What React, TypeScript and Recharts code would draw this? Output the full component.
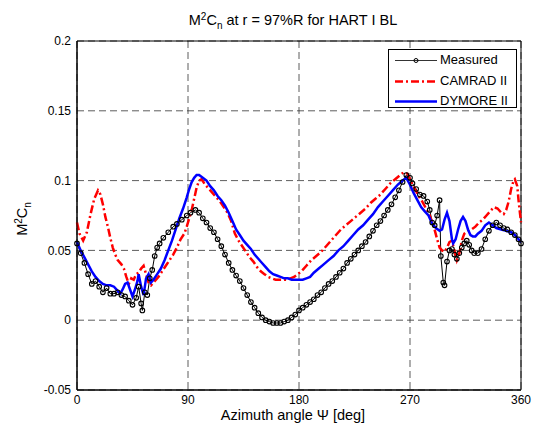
import React from 'react';
import { LineChart, Line, XAxis, YAxis, CartesianGrid, Legend, ReferenceArea } from 'recharts';

const psiTicks = [0, 90, 180, 270, 360];
const valueTicks = [-0.05, 0, 0.05, 0.1, 0.15, 0.2];

// Measured (azimuth deg, M^2Cn)
const measuredPsi = [
  0, 3, 6, 9, 12, 15, 18, 21, 24, 27, 30, 33, 36, 39, 42, 45, 48, 50, 52, 53, 55, 57, 59, 61, 63, 65, 67, 70, 74, 78,
  81, 85, 89, 92, 96, 99, 102, 105, 108, 111, 114, 117, 120, 123, 126, 129, 132, 135, 138, 141, 144, 147, 150, 153,
  156, 159, 162, 165, 168, 171, 174, 177, 180, 183, 186, 189, 192, 195, 198, 201, 204, 207, 210, 213, 216, 219, 222,
  225, 228, 231, 234, 237, 240, 243, 246, 249, 252, 255, 258, 261, 264, 267, 270, 272, 275, 278, 281, 284, 286, 288,
  290, 292, 294, 295, 297, 298, 300, 302, 304, 306, 308, 310, 312, 314, 316, 318, 320, 322, 325, 328, 331, 334, 337,
  340, 343, 346, 349, 352, 355, 358, 360,
];
const measuredVal = [
  0.055, 0.048, 0.041, 0.033, 0.026, 0.028, 0.024, 0.02, 0.023, 0.019, 0.019, 0.02, 0.018, 0.017, 0.014, 0.011, 0.016,
  0.024, 0.012, 0.007, 0.02, 0.018, 0.03, 0.036, 0.046, 0.052, 0.055, 0.059, 0.063, 0.067, 0.069, 0.072, 0.075, 0.077,
  0.079, 0.077, 0.073, 0.07, 0.066, 0.063, 0.058, 0.053, 0.047, 0.041, 0.036, 0.032, 0.028, 0.023, 0.018, 0.013, 0.009,
  0.005, 0.002, 0.0, -0.001, -0.002, -0.002, -0.002, -0.001, 0.0, 0.002, 0.004, 0.007, 0.009, 0.011, 0.013, 0.015, 0.018,
  0.02, 0.023, 0.026, 0.028, 0.031, 0.034, 0.037, 0.041, 0.044, 0.047, 0.05, 0.053, 0.056, 0.06, 0.064, 0.068, 0.071,
  0.075, 0.079, 0.083, 0.088, 0.093, 0.099, 0.104, 0.102, 0.098, 0.094, 0.09, 0.089, 0.085, 0.079, 0.07, 0.068, 0.075,
  0.086, 0.046, 0.027, 0.025, 0.042, 0.05, 0.051, 0.047, 0.044, 0.048, 0.052, 0.055, 0.057, 0.054, 0.05, 0.048, 0.048,
  0.051, 0.058, 0.064, 0.068, 0.07, 0.068, 0.066, 0.065, 0.063, 0.061, 0.058, 0.055,
];

// CAMRAD II
const camradPsi = [
  0, 2, 5, 8, 11, 14, 17, 19, 21, 23, 25, 27, 29, 31, 33, 36, 38, 40, 42, 44, 46, 48, 50, 52, 54, 56, 58, 60, 63, 66,
  69, 72, 75, 78, 81, 84, 87, 89, 91, 93, 95, 97, 99, 101, 104, 107, 110, 113, 116, 119, 122, 125, 128, 131, 134, 137,
  140, 143, 146, 149, 152, 155, 158, 161, 164, 167, 170, 173, 176, 179, 182, 186, 190, 194, 198, 202, 206, 210, 214,
  218, 222, 226, 230, 234, 238, 242, 246, 250, 254, 258, 262, 265, 268, 271, 274, 277, 280, 283, 286, 289, 292, 294,
  296, 298, 300, 302, 304, 306, 308, 310, 312, 314, 317, 320, 323, 326, 329, 332, 335, 338, 341, 344, 346, 348, 350,
  352, 354, 355, 357, 358, 360,
];
const camradVal = [
  0.07, 0.062, 0.057, 0.063, 0.076, 0.087, 0.093, 0.09, 0.083, 0.074, 0.067, 0.059, 0.052, 0.047, 0.043, 0.04, 0.037,
  0.031, 0.026, 0.03, 0.029, 0.033, 0.034, 0.037, 0.039, 0.033, 0.027, 0.025, 0.028, 0.031, 0.035, 0.039, 0.043, 0.047,
  0.052, 0.058, 0.062, 0.067, 0.073, 0.079, 0.087, 0.095, 0.1, 0.101, 0.097, 0.094, 0.091, 0.088, 0.085, 0.081, 0.077,
  0.071, 0.062, 0.057, 0.053, 0.049, 0.045, 0.042, 0.038, 0.035, 0.033, 0.031, 0.03, 0.029, 0.029, 0.029, 0.029, 0.03,
  0.031, 0.033, 0.035, 0.039, 0.043, 0.046, 0.049, 0.053, 0.057, 0.061, 0.065, 0.068, 0.071, 0.074, 0.077, 0.08, 0.084,
  0.087, 0.09, 0.094, 0.098, 0.101, 0.104, 0.106, 0.105, 0.099, 0.094, 0.089, 0.085, 0.08, 0.075, 0.068, 0.058, 0.052,
  0.05, 0.049, 0.052, 0.056, 0.057, 0.05, 0.043, 0.048, 0.057, 0.062, 0.064, 0.065, 0.067, 0.07, 0.072, 0.075, 0.078,
  0.081, 0.08, 0.077, 0.076, 0.079, 0.085, 0.094, 0.1, 0.101, 0.096, 0.086, 0.07,
];

// DYMORE II
const dymorePsi = [
  0, 3, 6, 9, 12, 15, 18, 21, 24, 27, 30, 33, 35, 37, 39, 41, 43, 45, 47, 49, 50, 52, 54, 56, 58, 60, 62, 65, 68, 71,
  74, 77, 80, 83, 86, 89, 91, 93, 95, 97, 99, 102, 105, 108, 111, 114, 117, 120, 123, 126, 129, 132, 135, 138, 141, 144,
  147, 150, 153, 156, 159, 162, 165, 168, 171, 174, 177, 180, 183, 186, 189, 192, 196, 200, 204, 208, 212, 216, 220,
  224, 228, 232, 236, 240, 244, 248, 252, 256, 260, 264, 267, 270, 273, 276, 279, 282, 285, 288, 291, 294, 296, 298,
  300, 302, 304, 305, 307, 309, 311, 313, 315, 317, 319, 321, 323, 325, 328, 331, 334, 337, 340, 344, 348, 352, 355,
  358, 360,
];
const dymoreVal = [
  0.056, 0.05, 0.045, 0.04, 0.035, 0.031, 0.028, 0.026, 0.025, 0.025, 0.024, 0.021, 0.019, 0.022, 0.026, 0.027, 0.022,
  0.017, 0.022, 0.028, 0.033, 0.024, 0.018, 0.03, 0.033, 0.027, 0.029, 0.033, 0.037, 0.043, 0.05, 0.057, 0.065, 0.073,
  0.08, 0.088, 0.094, 0.099, 0.102, 0.104, 0.104, 0.102, 0.1, 0.096, 0.093, 0.089, 0.086, 0.082, 0.077, 0.071, 0.065,
  0.061, 0.057, 0.054, 0.051, 0.047, 0.044, 0.041, 0.038, 0.035, 0.033, 0.032, 0.031, 0.03, 0.03, 0.029, 0.029, 0.029,
  0.029, 0.03, 0.031, 0.034, 0.037, 0.04, 0.043, 0.046, 0.05, 0.053, 0.057, 0.061, 0.065, 0.068, 0.072, 0.076, 0.081,
  0.085, 0.089, 0.093, 0.097, 0.1, 0.102, 0.097, 0.091, 0.086, 0.081, 0.078, 0.075, 0.069, 0.066, 0.064, 0.065, 0.072,
  0.077, 0.071, 0.058, 0.055, 0.058, 0.065, 0.071, 0.074, 0.071, 0.065, 0.061, 0.06, 0.06, 0.062, 0.064, 0.068, 0.07,
  0.068, 0.066, 0.065, 0.064, 0.063, 0.061, 0.058, 0.056,
];

const toPoints = (psi: number[], val: number[]) => psi.map((p, i) => ({ psi: p, value: val[i] }));

const FONT = '"Liberation Sans", Arial, Helvetica, sans-serif';

const series = [
  { name: 'Measured', color: '#000000', width: 0.8, dash: undefined as string | undefined, marker: true },
  { name: 'CAMRAD II', color: '#ff0000', width: 2.5, dash: '8 3 2 3', marker: false },
  { name: 'DYMORE II', color: '#0000ff', width: 2.5, dash: undefined as string | undefined, marker: false },
];

const LegendBox = () => (
  <div
    style={{
      width: 127,
      height: 57,
      border: '1px solid #000',
      background: '#fff',
      fontFamily: FONT,
      fontSize: 13,
      boxSizing: 'content-box',
    }}
  >
    {series.map((s, i) => (
      <div key={s.name} style={{ position: 'absolute', left: 0, top: 2 + i * 20.5, height: 18, width: 127 }}>
        <svg width={50} height={18} style={{ position: 'absolute', left: 0, top: 0 }}>
          <line x1={7} x2={49} y1={9.5} y2={9.5} stroke={s.color} strokeWidth={s.width} strokeDasharray={s.dash} />
          {s.marker && <circle cx={28} cy={9.5} r={2} stroke="#000" strokeWidth={1} fill="none" />}
        </svg>
        <span style={{ position: 'absolute', left: 52, top: 1, lineHeight: '16px', whiteSpace: 'nowrap' }}>{s.name}</span>
      </div>
    ))}
  </div>
);

const App: React.FC = () => {
  return (
    <div style={{ position: 'absolute', left: 0, top: 0, width: 533, height: 432, background: '#fff' }}>
      <LineChart width={533} height={432} margin={{ top: 41, right: 12, bottom: 0, left: 0 }} style={{ fontFamily: FONT }}>
        <CartesianGrid stroke="#333" strokeDasharray="7 4" strokeWidth={0.8} />
        <XAxis
          dataKey="psi"
          type="number"
          domain={[0, 360]}
          ticks={psiTicks}
          allowDuplicatedCategory={false}
          height={42}
          tickLine={false}
          tickSize={4}
          tickMargin={1}
          axisLine={{ stroke: '#000' }}
          tick={{ fill: '#000', fontSize: 12, fontFamily: FONT }}
        />
        <YAxis
          type="number"
          domain={[-0.05, 0.2]}
          ticks={valueTicks}
          width={77}
          tickLine={false}
          tickSize={4}
          tickMargin={2}
          axisLine={{ stroke: '#000' }}
          tick={{ fill: '#000', fontSize: 12, fontFamily: FONT }}
        />
        <ReferenceArea x1={0} x2={360} y1={-0.05} y2={0.2} fill="none" stroke="#000" strokeWidth={1} />
        <Line
          data={toPoints(measuredPsi, measuredVal)}
          dataKey="value"
          name="Measured"
          stroke="#000"
          strokeWidth={1}
          dot={{ r: 2.3, stroke: '#000', strokeWidth: 1.1, fill: 'none' }}
          isAnimationActive={false}
        />
        <Line
          data={toPoints(camradPsi, camradVal)}
          dataKey="value"
          name="CAMRAD II"
          stroke="#ff0000"
          strokeWidth={2.5}
          strokeDasharray="8 3 2 3"
          dot={false}
          isAnimationActive={false}
        />
        <Line
          data={toPoints(dymorePsi, dymoreVal)}
          dataKey="value"
          name="DYMORE II"
          stroke="#0000ff"
          strokeWidth={2.5}
          dot={false}
          isAnimationActive={false}
        />
        <Legend
          layout="horizontal"
          verticalAlign="middle"
          align="center"
          content={() => <LegendBox />}
          wrapperStyle={{ position: 'absolute', left: 388, top: 49, width: 129, height: 59 }}
        />
      </LineChart>
      <svg
        width={533}
        height={432}
        style={{ position: 'absolute', left: 0, top: 0, pointerEvents: 'none', fontFamily: FONT }}
      >
        <text x={293} y={25} textAnchor="middle" fontSize={14.5} fill="#000">
          <tspan>M</tspan>
          <tspan dy={-5} fontSize={10}>2</tspan>
          <tspan dy={5}>C</tspan>
          <tspan dy={4} fontSize={10}>n</tspan>
          <tspan dy={-4}> at r = 97%R for HART I BL</tspan>
        </text>
        <text transform="translate(27,219) rotate(-90)" textAnchor="middle" fontSize={14.5} fill="#000">
          <tspan>M</tspan>
          <tspan dy={-5} fontSize={10}>2</tspan>
          <tspan dy={5}>C</tspan>
          <tspan dy={4} fontSize={10}>n</tspan>
        </text>
        <text x={293} y={420} textAnchor="middle" fontSize={14.5} fill="#000">
          Azimuth angle Ψ [deg]
        </text>
      </svg>
    </div>
  );
};

export default App;
